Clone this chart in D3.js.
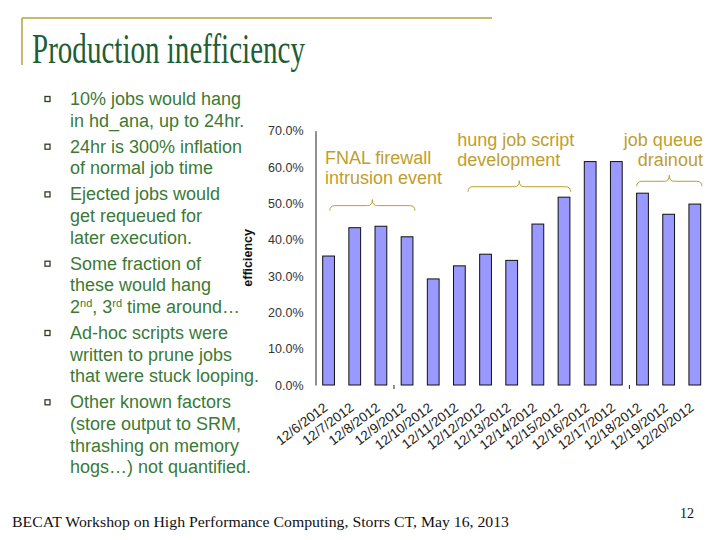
<!DOCTYPE html>
<html>
<head>
<meta charset="utf-8">
<script src="https://cdn.jsdelivr.net/npm/d3@7"></script>
<style>
  body { margin: 0; background: #fff; }
  svg { display: block; }
</style>
</head>
<body>
<svg id="slide" width="720" height="540"></svg>
<script>
// data
const dates = ['12/6/2012', '12/7/2012', '12/8/2012', '12/9/2012', '12/10/2012', '12/11/2012', '12/12/2012',
    '12/13/2012', '12/14/2012', '12/15/2012', '12/16/2012', '12/17/2012', '12/18/2012', '12/19/2012', '12/20/2012']
const efficiency = [0.355, 0.433, 0.437, 0.408, 0.292, 0.328, 0.360, 0.343, 0.443, 0.517, 0.615, 0.615, 0.528, 0.470, 0.498]
const yTicks = [0, 0.1, 0.2, 0.3, 0.4, 0.5, 0.6, 0.7]

const bullets = [
    ['10% jobs would hang', 'in hd_ana, up to 24hr.'],
    ['24hr is 300% inflation', 'of normal job time'],
    ['Ejected jobs would', 'get requeued for', 'later execution.'],
    ['Some fraction of', 'these would hang', '2^nd, 3^rd time around…'],
    ['Ad-hoc scripts were', 'written to prune jobs', 'that were stuck looping.'],
    ['Other known factors', '(store output to SRM,', 'thrashing on memory', 'hogs…) not quantified.']
]

// annotation spans are in bar-index units, text y in efficiency units
const notes = [
    { lines: ['FNAL firewall', 'intrusion event'], anchor: 'start', tx: 0.36, ty: 0.609, from: 0.55, to: 3.8, by: 0.48 },
    { lines: ['hung job script', 'development'], anchor: 'start', tx: 5.42, ty: 0.658, from: 5.83, to: 9.75, by: 0.532 },
    { lines: ['job queue', 'drainout'], anchor: 'end', tx: 14.81, ty: 0.658, from: 12.28, to: 14.77, by: 0.547 }
]

const svg = d3.select('#slide')
const green = '#3b7a35'
const gold = '#bf9e2c'

// title block
svg.append('line').attr('x1', 22).attr('x2', 492).attr('y1', 18).attr('y2', 18)
    .style('stroke', '#b5a33f').style('stroke-width', 1.5)
svg.append('line').attr('x1', 22).attr('x2', 22).attr('y1', 18).attr('y2', 65)
    .style('stroke', '#b5a33f').style('stroke-width', 1.5)
svg.append('text').attr('x', 32).attr('y', 63).text('Production inefficiency')
    .attr('textLength', 273).attr('lengthAdjust', 'spacingAndGlyphs')
    .style('font-family', 'Liberation Serif, serif').style('font-size', '42px').style('fill', '#1d5e35')

// bullet list
let by = 105
bullets.forEach((b, bi) => {
    if (bi > 0) by += 4.5
    svg.append('rect').attr('x', 45).attr('y', by - 8.5).attr('width', 5).attr('height', 5)
        .style('fill', 'none').style('stroke', '#2f3f2c').style('stroke-width', 1.3)
    b.forEach((line, li) => {
        if (li > 0) by += 21.6
        const t = svg.append('text').attr('x', 70).attr('y', by)
            .style('font-family', 'Liberation Sans, Arial, sans-serif').style('font-size', '18px').style('fill', green)
        line.split(/(\^\w+)/).forEach(part => {
            if (part.startsWith('^')) {
                t.append('tspan').text(part.slice(1)).attr('baseline-shift', 'super').style('font-size', '11px')
            } else if (part) {
                t.append('tspan').text(part)
            }
        })
    })
    by += 21.6
})

// chart
const x = d3.scaleBand().domain(dates).range([315.5, 707.9]).paddingInner(0.55).paddingOuter(0.275)
const y = d3.scaleLinear().domain([0, 0.7]).range([385, 130.7])
const xi = d3.scaleLinear().domain([0, dates.length]).range(x.range())

const yAxis = svg.append('g').attr('transform', 'translate(315.5,0)')
    .call(d3.axisLeft(y).tickValues(yTicks).tickFormat(d3.format('.1%')).tickSize(0).tickPadding(12))
yAxis.select('.domain').style('stroke', '#222')
yAxis.selectAll('text').style('font-family', 'Liberation Sans, Arial, sans-serif').style('font-size', '12.5px').style('fill', '#333')

svg.append('text').attr('transform', `translate(252,${y(0.35)}) rotate(-90)`).attr('text-anchor', 'middle')
    .text('efficiency')
    .style('font-family', 'Liberation Sans, Arial, sans-serif').style('font-size', '12.5px').style('font-weight', 'bold').style('fill', '#111')

svg.selectAll('.bar').data(efficiency).enter().append('rect').attr('class', 'bar')
    .attr('x', (d, i) => x(dates[i])).attr('width', x.bandwidth())
    .attr('y', d => y(d)).attr('height', d => y(0) - y(d))
    .style('fill', '#9999ff').style('stroke', '#111').style('stroke-width', 1)

// the two stray tick marks on the category axis
svg.selectAll('.xtick').data([3, 12]).enter().append('line').attr('class', 'xtick')
    .attr('x1', d => xi(d)).attr('x2', d => xi(d)).attr('y1', y(0)).attr('y2', y(0) + 4)
    .style('stroke', '#222')

svg.selectAll('.xlabel').data(dates).enter().append('text').attr('class', 'xlabel')
    .attr('transform', d => `translate(${x(d) + x.bandwidth() / 2},409.5) rotate(-37)`)
    .attr('text-anchor', 'end').text(d => d)
    .style('font-family', 'Liberation Sans, Arial, sans-serif').style('font-size', '13.5px').style('fill', '#222')

// annotations with curly braces
function brace(x1, x2, yEnd) {
    const xm = (x1 + x2) / 2, yMid = yEnd - 5, yTip = yEnd - 11, r = 5
    return `M${x1},${yEnd} Q${x1},${yMid} ${x1 + r},${yMid} L${xm - r},${yMid} Q${xm},${yMid} ${xm},${yTip}`
        + ` Q${xm},${yMid} ${xm + r},${yMid} L${x2 - r},${yMid} Q${x2},${yMid} ${x2},${yEnd}`
}

notes.forEach(n => {
    n.lines.forEach((line, li) => {
        svg.append('text').attr('x', xi(n.tx)).attr('y', y(n.ty) + li * 20.5).attr('text-anchor', n.anchor)
            .text(line)
            .style('font-family', 'Liberation Sans, Arial, sans-serif').style('font-size', '18px').style('fill', gold)
    })
    svg.append('path').attr('d', brace(xi(n.from), xi(n.to), y(n.by)))
        .style('fill', 'none').style('stroke', gold).style('stroke-width', 1)
})

// footer
svg.append('text').attr('x', 12).attr('y', 527).text('BECAT Workshop on High Performance Computing, Storrs CT, May 16, 2013')
    .attr('textLength', 497).attr('lengthAdjust', 'spacingAndGlyphs')
    .style('font-family', 'Liberation Serif, serif').style('font-size', '15px').style('fill', '#111')
svg.append('text').attr('x', 694).attr('y', 518).attr('text-anchor', 'end').text('12')
    .style('font-family', 'Liberation Serif, serif').style('font-size', '14px').style('fill', '#111')
</script>
</body>
</html>
